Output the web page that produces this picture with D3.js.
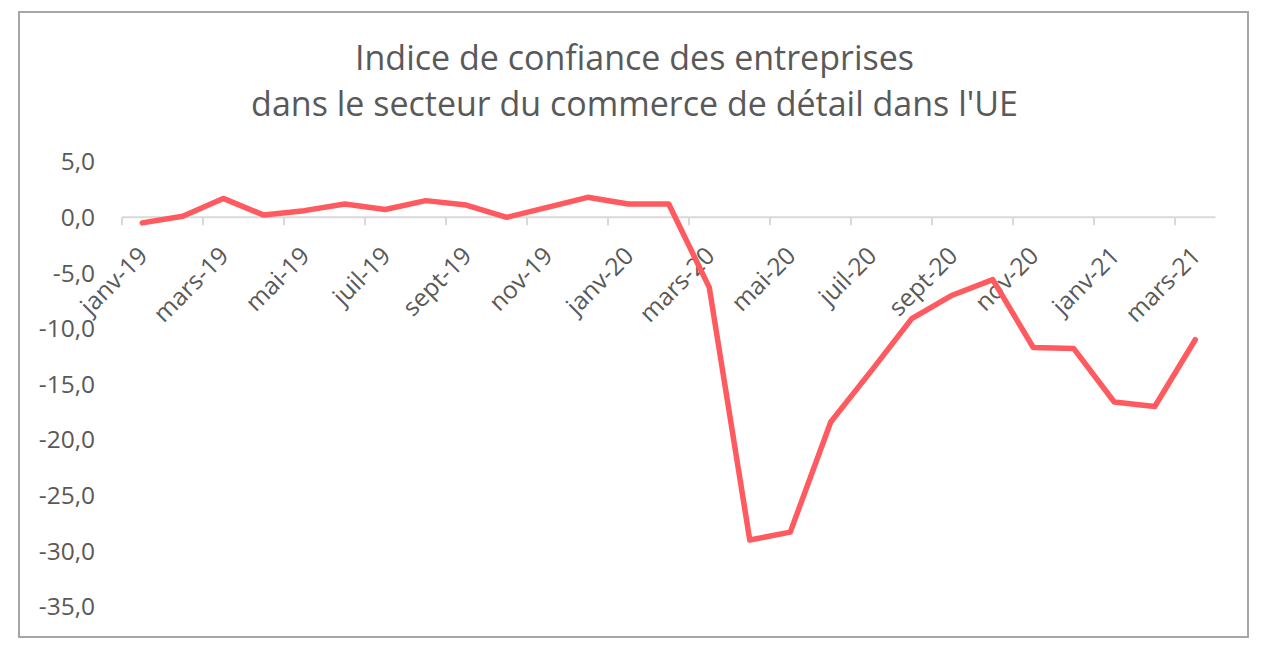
<!DOCTYPE html>
<html>
<head>
<meta charset="utf-8">
<script src="https://cdn.jsdelivr.net/npm/d3@7"></script>
<style>
  html, body { margin: 0; padding: 0; background: #fff; }
  svg { display: block; font-family: "Open Sans", sans-serif; }
</style>
</head>
<body>
<svg id="chart" width="1278" height="654"></svg>
<script>
const titleLines = ["Indice de confiance des entreprises", "dans le secteur du commerce de détail dans l'UE"];
const months = ["janv-19","févr-19","mars-19","avr-19","mai-19","juin-19","juil-19","août-19","sept-19","oct-19","nov-19","déc-19",
                "janv-20","févr-20","mars-20","avr-20","mai-20","juin-20","juil-20","août-20","sept-20","oct-20","nov-20","déc-20",
                "janv-21","févr-21","mars-21"];
const values = [-0.5, 0.1, 1.7, 0.2, 0.6, 1.2, 0.7, 1.5, 1.1, 0.0, 0.9, 1.8,
                1.2, 1.2, -6.3, -29.0, -28.3, -18.4, -13.8, -9.1, -7.0, -5.6, -11.7, -11.8,
                -16.6, -17.0, -11.0];
const yTicks = [5, 0, -5, -10, -15, -20, -25, -30, -35];

const svg = d3.select("#chart");
const textColor = "#595959";

// Border
svg.append("rect").attr("x", 19).attr("y", 12).attr("width", 1229).attr("height", 625)
  .attr("fill", "none").attr("stroke", "#a6a6a6").attr("stroke-width", 2);

// Title
svg.append("g").selectAll("text").data(titleLines).join("text")
  .attr("x", 634.5).attr("y", (d, i) => 70 + i * 46)
  .attr("text-anchor", "middle").attr("font-size", 34).attr("fill", textColor)
  .text(d => d);

const x = d3.scaleBand().domain(months).range([122, 1215.5]);
const y = d3.scaleLinear().domain([-35, 5]).range([606.7, 161.7]);

// Y labels
svg.append("g").selectAll("text").data(yTicks).join("text")
  .attr("x", 95).attr("y", d => y(d)).attr("dy", "0.35em")
  .attr("text-anchor", "end").attr("font-size", 24.5).attr("fill", textColor)
  .text(d => d3.format(".1f")(d).replace(".", ",").replace("−", "-"));

// X axis line at zero
const axisY = y(0);
svg.append("line").attr("x1", x.range()[0]).attr("x2", x.range()[1])
  .attr("y1", axisY).attr("y2", axisY).attr("stroke", "#d9d9d9").attr("stroke-width", 2);

// tick marks every 2 months (at category boundaries)
const tickIdx = d3.range(0, months.length + 1, 2);
svg.append("g").selectAll("line").data(tickIdx).join("line")
  .attr("x1", i => x.range()[0] + i * x.step()).attr("x2", i => x.range()[0] + i * x.step())
  .attr("y1", axisY).attr("y2", axisY + 8).attr("stroke", "#d9d9d9").attr("stroke-width", 2);

// X labels
const labelMonths = months.filter((d, i) => i % 2 === 0);
svg.append("g").selectAll("text").data(labelMonths).join("text")
  .attr("transform", d => `translate(${x(d) + x.bandwidth() / 2 + 7},${axisY + 40}) rotate(-45)`)
  .attr("text-anchor", "end").attr("font-size", 24.5).attr("fill", textColor)
  .text(d => d);

// Line
const line = d3.line().x((d, i) => x(months[i]) + x.bandwidth() / 2).y(d => y(d));
svg.append("path").datum(values).attr("d", line)
  .attr("fill", "none").attr("stroke", "#ff5a5f").attr("stroke-width", 5.5)
  .attr("stroke-linejoin", "round").attr("stroke-linecap", "round");
</script>
</body>
</html>
